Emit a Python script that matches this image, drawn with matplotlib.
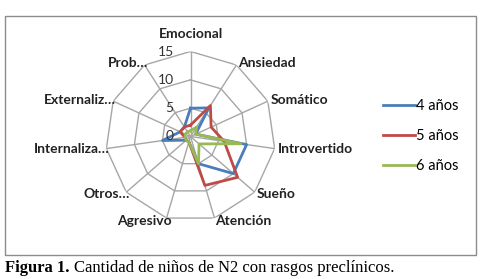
import numpy as np
import matplotlib
matplotlib.use('Agg')
import matplotlib.pyplot as plt
from matplotlib.patches import Rectangle

# datos
categorias = ['Emocional', 'Ansiedad', 'Somático', 'Introvertido', 'Sueño', 'Atención',
              'Agresivo', 'Otros…', 'Internaliza…', 'Externaliz…', 'Prob…']
grupos = ['4 años', '5 años', '6 años']
v4 = [5, 6, 1, 10, 10, 5, 1, 1, 5, 2, 2]
v5 = [2, 6.5, 4, 6, 11, 9, 1, 1, 1, 2, 2]
v6 = [1, 2, 1, 9, 2, 5, 1, 1, 1, 1, 1]
ticks_r = [0, 5, 10, 15]

colores = ['#4A7EBB', '#BE4B48', '#98B954']
gris = '#A6A6A6'
fuente = 'Lato'

fig = plt.figure(figsize=(4.91, 2.79), dpi=100)
W, H = 491, 279

# marco exterior
fig.patches.append(Rectangle((5 / W, 1 - 255 / H), 471 / W, 239 / H, transform=fig.transFigure,
                             fill=False, edgecolor='#8C8C8C', lw=1.0))

cx, cy, R = 190.5, 136.5, 85
ax = fig.add_axes([(cx - R) / W, 1 - (cy + R) / H, 2 * R / W, 2 * R / H], polar=True)
ax.set_theta_zero_location('N')
ax.set_theta_direction(-1)

n = len(categorias)
ang = np.arange(n) * 2 * np.pi / n
ang_c = np.append(ang, ang[0])

# rejilla poligonal
for r in ticks_r[1:]:
    ax.plot(ang_c, [r] * (n + 1), color=gris, lw=1.0, zorder=1)
for a in ang:
    ax.plot([a, a], [0, ticks_r[-1]], color=gris, lw=1.0, zorder=1)

# series
for vals, col, lab in zip([v4, v5, v6], colores, grupos):
    ax.plot(ang_c, np.append(vals, vals[0]), color=col, lw=2.0, label=lab, zorder=3)

ax.set_ylim(0, ticks_r[-1])
ax.set_xticks([])
ax.set_yticks([])
ax.grid(False)
ax.spines['polar'].set_visible(False)
ax.patch.set_visible(False)

# etiquetas del eje radial
for r in ticks_r:
    ax.annotate(str(r), xy=(0, r), xytext=(-12, 0), textcoords='offset points',
                ha='right', va='center', fontsize=10, family=fuente, color='#333333')

# etiquetas de categorías
for a, lab in zip(ang, categorias):
    s, c = np.sin(a), np.cos(a)
    if s > 0.1:
        ha = 'left'
    elif s < -0.1:
        ha = 'right'
    else:
        ha = 'center'
    va = 'center'
    dx, dy = 2 * s, 2 * c
    if c > 0.9:
        va = 'bottom'
        dy = 8
    if s < -0.1:
        dx += 4
    ax.annotate(lab, xy=(a, ticks_r[-1]), xytext=(dx, dy), textcoords='offset points',
                ha=ha, va=va, fontsize=10, family=fuente, fontweight='bold', color='#222222',
                annotation_clip=False)

fig.legend(loc='center left', bbox_to_anchor=(383 / W, 1 - 136 / H), frameon=False,
           prop={'family': fuente, 'size': 10.5}, handlelength=2.2, handletextpad=0.05,
           labelspacing=1.1, borderpad=0, borderaxespad=0)

# pie de figura
t1 = fig.text(5 / W, 1 - 268 / H, 'Figura 1.', family='Liberation Serif', fontweight='bold',
              fontsize=12, va='center', ha='left')
fig.canvas.draw()
bb = t1.get_window_extent()
fig.text((bb.x1 + 5) / W, 1 - 268 / H, 'Cantidad de niños de N2 con rasgos preclínicos.',
         family='Liberation Serif', fontsize=12, va='center', ha='left')

fig.savefig('out.png', dpi=100)
